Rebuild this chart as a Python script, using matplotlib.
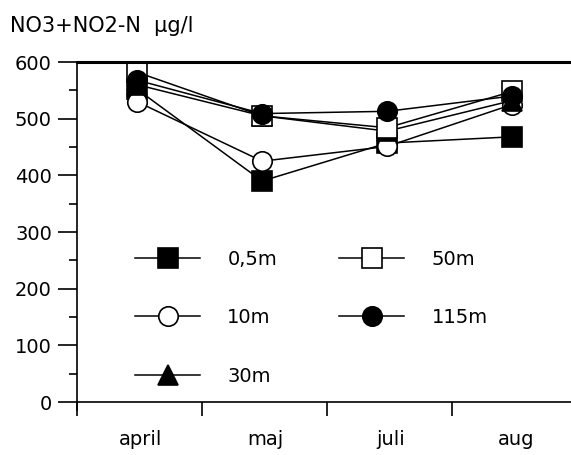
import matplotlib
matplotlib.use("Agg")
import matplotlib.pyplot as plt
from matplotlib.ticker import FixedLocator, MultipleLocator, NullFormatter, FixedFormatter

# NO3+NO2-N concentration (µg/l) per sampling month and depth
months = ["april", "maj", "juli", "aug"]
depth_labels = ["0,5m", "10m", "30m", "50m", "115m"]
d_05m = [552, 390, 457, 468]
d_10m = [530, 425, 451, 525]
d_30m = [560, 505, 478, 532]
d_50m = [582, 505, 484, 548]
d_115m = [568, 509, 513, 540]

series = [d_05m, d_10m, d_30m, d_50m, d_115m]
styles = [
    dict(marker="s", mfc="black"),
    dict(marker="o", mfc="white"),
    dict(marker="^", mfc="black"),
    dict(marker="s", mfc="white"),
    dict(marker="o", mfc="black"),
]

plt.rcParams["font.family"] = ["DejaVu Sans"]

fig = plt.figure(figsize=(5.71, 4.55), dpi=100)
ax = fig.add_axes([77 / 571, 45 / 455, 494 / 571, 348 / 455])

x = list(range(len(months)))
handles = []
for vals, lab, st in zip(series, depth_labels, styles):
    (h,) = ax.plot(x, vals, color="black", lw=1.1, ms=14, mec="black",
                   mew=1.2, label=lab, **st)
    handles.append(h)

ax.set_xlim(-0.48, 3.47)
ax.set_ylim(-14, 600)

# axes frame: left spine, x axis at zero, heavy top line, no right spine
ax.spines["right"].set_visible(False)
ax.spines["bottom"].set_position(("data", 0))
ax.spines["top"].set_linewidth(2.2)
ax.spines["left"].set_linewidth(1.2)
ax.spines["bottom"].set_linewidth(1.2)

ax.yaxis.set_major_locator(MultipleLocator(100))
ax.yaxis.set_minor_locator(MultipleLocator(50))
ax.tick_params(axis="y", which="major", direction="out", length=14,
               width=1.2, labelsize=14, pad=4)
ax.tick_params(axis="y", which="minor", direction="out", length=6, width=1.2)

# x tick marks between months, labels under each month
ax.xaxis.set_major_locator(FixedLocator([-0.48, 0.52, 1.52, 2.52]))
ax.xaxis.set_major_formatter(NullFormatter())
ax.xaxis.set_minor_locator(FixedLocator([i + 0.03 for i in x]))
ax.xaxis.set_minor_formatter(FixedFormatter(months))
ax.tick_params(axis="x", which="major", direction="out", length=10, width=1.2)
ax.tick_params(axis="x", which="minor", length=0, labelsize=14, pad=20)

ax.legend(handles, depth_labels,
          ncol=2, frameon=False, fontsize=14, handlelength=3.35,
          handletextpad=1.4, columnspacing=3.2, labelspacing=2.03,
          borderpad=0, borderaxespad=0, loc="upper left",
          bbox_to_anchor=(0.1174, 0.461))

fig.text(10 / 571, 1 - 32 / 455, "NO3+NO2-N  µg/l", fontsize=15,
         ha="left", va="baseline")

fig.savefig("out.png", dpi=100)
